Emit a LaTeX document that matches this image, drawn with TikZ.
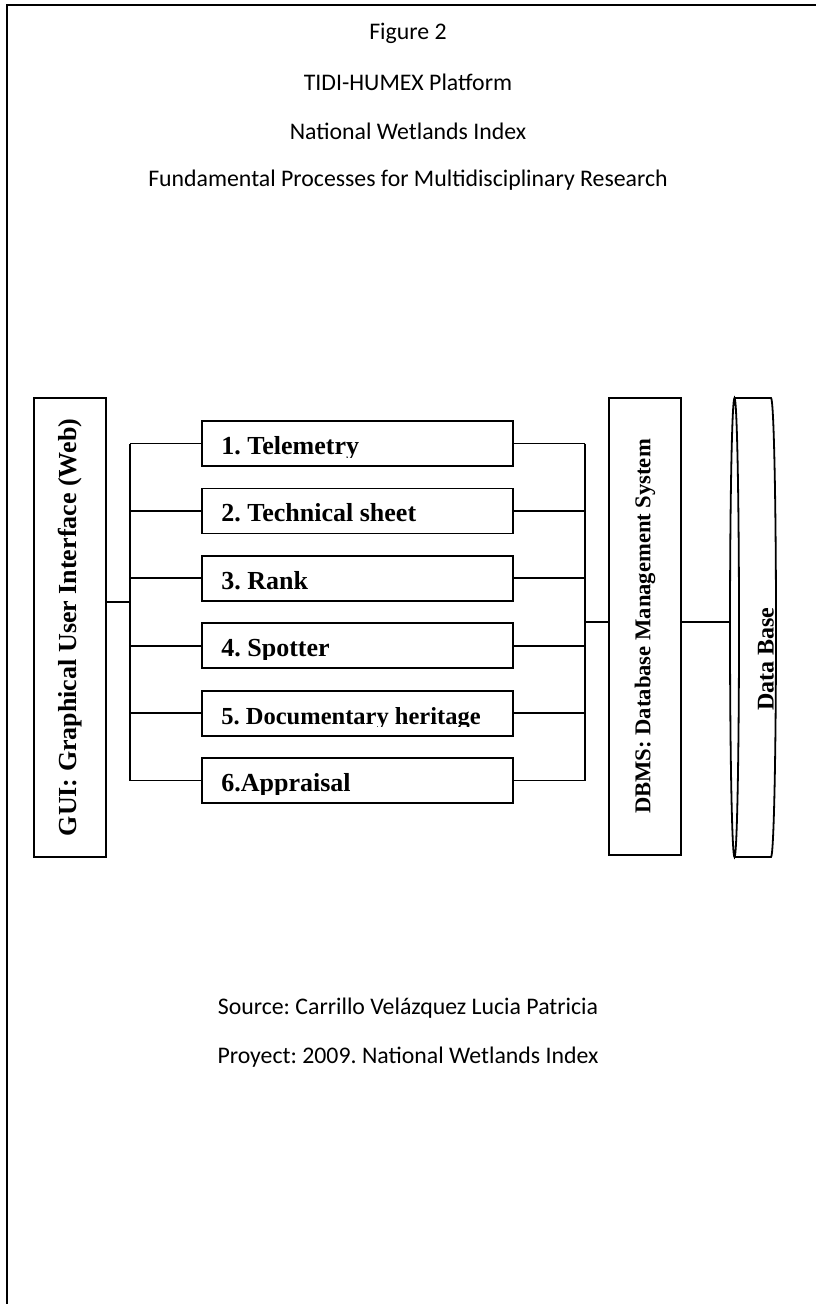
\documentclass[tikz,border=0pt]{standalone}
\usepackage{fontspec}
\setmainfont{Liberation Serif}
\newfontfamily\headfont{Carlito}
\usetikzlibrary{positioning}

\begin{document}
\frenchspacing
\begin{tikzpicture}[
            x = 1pt, y = -1pt, % pixel units, y grows downwards
            node distance = 67.4pt, % distance between process boxes
            semithick % line style
        ]

        \tikzstyle{title}=[font=\headfont\fontsize{23.8}{28}\selectfont]
        \tikzstyle{box}=[draw = black, line width = 1.8pt, inner sep = 0pt]
        \tikzstyle{proc}=[box, minimum width = 311pt, minimum height = 45pt]
        \tikzstyle{tall}=[box, minimum width = 72pt, minimum height = 459pt]
        \tikzstyle{wire}=[line width = 1.8pt]

        \useasboundingbox (0,0) rectangle (816,1304);
        \draw[line width = 1.8pt] (7,1304) |- (816,5); % page frame

        % headings
        \node[title] (fig) at (408,33) {Figure 2};
        \node[title] (plat) at (408,82) {TIDI-HUMEX Platform};
        \node[title] (idx) at (408,131) {National Wetlands Index};
        \node[title] (proc) at (408,180) {Fundamental Processes for Multidisciplinary Research};

        % interface, dbms and data base
        \node[tall] (gui) at (70,627.5)
            {\rotatebox{90}{\fontsize{26}{30}\selectfont\bfseries GUI: Graphical User Interface (Web)}};
        \node[tall, minimum height = 457pt] (dbms) at (645,626.5)
            {\rotatebox{90}{\fontsize{22.6}{26}\selectfont\bfseries DBMS: Database Management System}};
        \node[minimum width = 46pt, minimum height = 459pt, inner sep = 0pt] (db) at (753,627.5) {};
        \draw[box] (734.5,398) -- (771,398)
            arc[start angle = 90, end angle = -90, x radius = 5pt, y radius = 229.5pt] -- (734.5,857);
        \draw[box] (734.5,627.5) ellipse [x radius = 4.5pt, y radius = 229.5pt];
        \node[rotate = 90, font = \fontsize{24}{28}\selectfont\bfseries] (dbtxt) at (766,659) {Data Base};

        % the six processes
        \node[proc] (p1) at (357.5,443.5) {};
        \node[proc] (p2) [below of=p1] {};
        \node[proc] (p3) [below of=p2] {};
        \node[proc] (p4) [below of=p3] {};
        \node[proc] (p5) [below of=p4] {};
        \node[proc] (p6) [below of=p5] {};

        \foreach \i/\txt/\fs in {1/{1. Telemetry}/26, 2/{2. Technical sheet}/26, 3/{3. Rank}/26,
                                 4/{4. Spotter}/26, 5/{5. Documentary heritage}/24.5, 6/{6.Appraisal}/26} {
            \begin{scope}
                \clip (p\i.north west) rectangle ([yshift=-13.5pt]p\i.east);
                \node[anchor = base west, inner sep = 0pt, font = \fontsize{\fs}{28}\selectfont\bfseries]
                    (t\i) at ([xshift=20pt, yshift=-11pt]p\i.west) {\txt};
            \end{scope}
        }

        % buses on both sides
        \coordinate (lbus) at (130,0);
        \coordinate (rbus) at (585,0);
        \foreach \i in {1,...,6} {
            \draw[wire] (p\i.west) -- (p\i.west -| lbus);
            \draw[wire] (p\i.east) -- (p\i.east -| rbus);
        }
        \draw[wire] (p1.west -| lbus) -- (p6.west -| lbus);
        \draw[wire] (p1.east -| rbus) -- (p6.east -| rbus);
        \draw[wire] (gui.east |- p3.south) -- (p3.south -| lbus);
        \draw[wire] (p4.north -| rbus) -- (p4.north -| dbms.west);
        \draw[wire] (dbms.east |- p4.north) -- (p4.north -| db.west);

        % source
        \node[title] (src) at (408,1008) {Source: Carrillo Velázquez Lucia Patricia};
        \node[title] (proj) at (408,1057) {Proyect: 2009. National Wetlands Index};

  \end{tikzpicture}
\end{document}
